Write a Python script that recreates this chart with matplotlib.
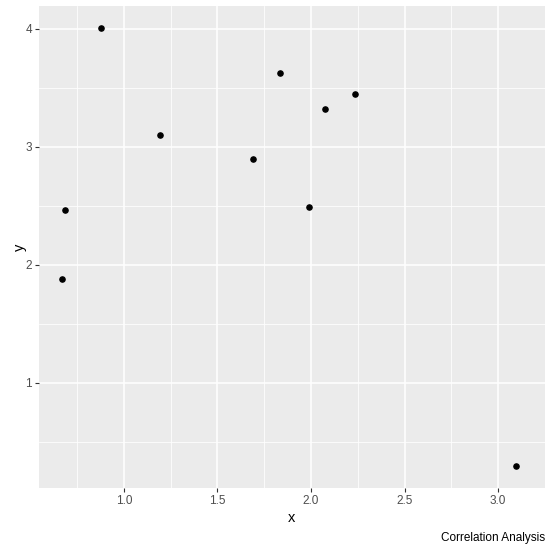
import matplotlib.pyplot as plt
import numpy as np

plt.rcParams['font.family'] = ['Liberation Sans', 'DejaVu Sans']

# values
x_vals = [0.668, 0.684, 0.879, 1.195, 1.689, 1.832, 1.989, 2.074, 2.237, 3.095]
y_vals = [1.884, 2.462, 4.008, 3.099, 2.895, 3.626, 2.488, 3.320, 3.448, 0.296]
x_ticks = [1.0, 1.5, 2.0, 2.5, 3.0]
y_ticks = [1, 2, 3, 4]
caption = "Correlation Analysis"

W, H = 553, 552
fig = plt.figure(figsize=(W / 100, H / 100), dpi=100)
ax = fig.add_axes([39 / W, 1 - 488 / H, (545 - 39) / W, (488 - 6) / H])

ax.set_facecolor("#EBEBEB")
for s in ax.spines.values():
    s.set_visible(False)

# ggplot-ish 5% expansion
xr = max(x_vals) - min(x_vals)
yr = max(y_vals) - min(y_vals)
ax.set_xlim(min(x_vals) - 0.05 * xr, max(x_vals) + 0.05 * xr)
ax.set_ylim(min(y_vals) - 0.05 * yr, max(y_vals) + 0.05 * yr)

ax.set_xticks(x_ticks)
ax.set_xticklabels(["%.1f" % v for v in x_ticks])
ax.set_yticks(y_ticks)
ax.set_yticklabels([str(v) for v in y_ticks])
ax.set_xticks(np.arange(0.75, 3.3, 0.5), minor=True)
ax.set_yticks(np.arange(0.5, 4.2, 1.0), minor=True)

ax.grid(which="major", color="white", linewidth=1.1)
ax.grid(which="minor", color="white", linewidth=0.55)
ax.set_axisbelow(True)
ax.tick_params(which="major", length=3, color="#333333", labelcolor="#4D4D4D",
               labelsize=8.5, pad=2)
ax.tick_params(which="minor", length=0)

ax.scatter(x_vals, y_vals, s=14, color="black", zorder=3)

ax.set_xlabel("x", fontsize=10.5, labelpad=3)
ax.set_ylabel("y", fontsize=10.5, labelpad=-1)

fig.text(545 / W, 1 - 538 / H, caption, ha="right", va="center", fontsize=8.5)

fig.savefig("out.png", dpi=100)
